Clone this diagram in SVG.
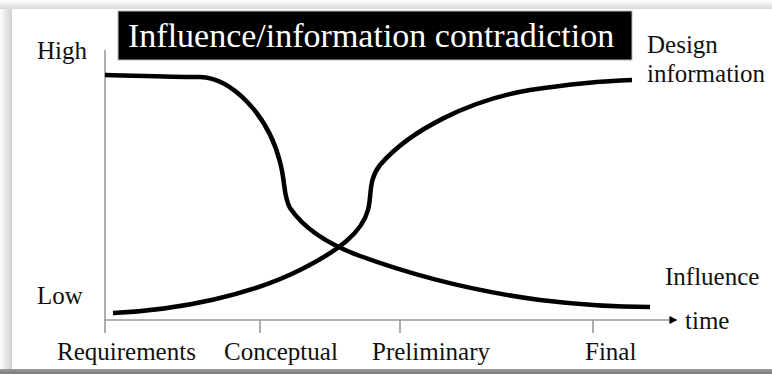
<svg xmlns="http://www.w3.org/2000/svg" width="772" height="374" viewBox="0 0 772 374">
<style>
.t{font-family:"Liberation Serif","Times New Roman",serif;font-size:25px;fill:#111}
.ttl{font-family:"Liberation Serif","Times New Roman",serif;font-size:34px;fill:#fff}
.axis{stroke:#9a9a9a;stroke-width:1.6;fill:none}
.curve{stroke:#000;stroke-width:4.5;fill:none;stroke-linecap:butt}
</style>
<defs>
<linearGradient id="gl" x1="0" y1="0" x2="1" y2="0"><stop offset="0" stop-color="#fff"/><stop offset="1" stop-color="#cfcfcf"/></linearGradient>
<linearGradient id="gt" x1="0" y1="0" x2="0" y2="1"><stop offset="0" stop-color="#fff"/><stop offset="1" stop-color="#d8d8d8"/></linearGradient>
<linearGradient id="gb" x1="0" y1="0" x2="0" y2="1"><stop offset="0" stop-color="#9a9a9a"/><stop offset="1" stop-color="#7a7a7a"/></linearGradient>
<marker id="arr" viewBox="0 0 10 10" refX="2" refY="5" markerWidth="5" markerHeight="5" orient="auto" markerUnits="strokeWidth"><path d="M0,0 L10,5 L0,10 z" fill="#000"/></marker>
</defs>
<g id="frame">
<rect x="0" y="0" width="772" height="374" fill="#fff"/>
<rect x="0" y="0" width="12" height="374" fill="url(#gl)"/>
<rect x="0" y="0" width="772" height="9" fill="url(#gt)"/>
<rect x="12" y="9" width="760" height="360" fill="#fff"/>
<rect x="0" y="369" width="772" height="5" fill="url(#gb)"/>
</g>
<g id="title">
<rect x="118" y="11" width="514" height="49" fill="#000" stroke="#bbb" stroke-width="1"/>
<text class="ttl" x="128" y="47">Influence/information contradiction</text>
</g>
<g id="axes">
<line class="axis" x1="105" y1="50" x2="105" y2="333"/>
<line class="axis" x1="105" y1="320" x2="671" y2="320" marker-end="url(#arr)"/>
<line class="axis" x1="260" y1="320" x2="260" y2="333"/>
<line class="axis" x1="400" y1="320" x2="400" y2="333"/>
<line class="axis" x1="593" y1="320" x2="593" y2="333"/>
</g>
<g id="connectors">
<path id="influence-curve" class="curve" d="M105,75 C150,76 180,77 200,77 C232,78 268,115 280,162 C286,185 283,195 290,208 C305,230 330,245 360,256 C420,278 480,292 540,300 C590,306 620,307 650,307"/>
<path id="design-curve" class="curve" d="M113,313 C180,310 250,295 300,270 C340,250 362,232 368,210 C372,195 368,180 380,165 C410,130 470,100 530,90 C570,84 600,81 632,80"/>
</g>
<g id="labels">
<text class="t" x="37" y="59">High</text>
<text class="t" x="37" y="304">Low</text>
<text class="t" x="57" y="360">Requirements</text>
<text class="t" x="224" y="360">Conceptual</text>
<text class="t" x="372" y="360">Preliminary</text>
<text class="t" x="585" y="360">Final</text>
<text class="t" x="685" y="329">time</text>
<text class="t" x="665" y="285">Influence</text>
<text class="t" x="647" y="53">Design</text>
<text class="t" x="647" y="82">information</text>
</g>
</svg>
